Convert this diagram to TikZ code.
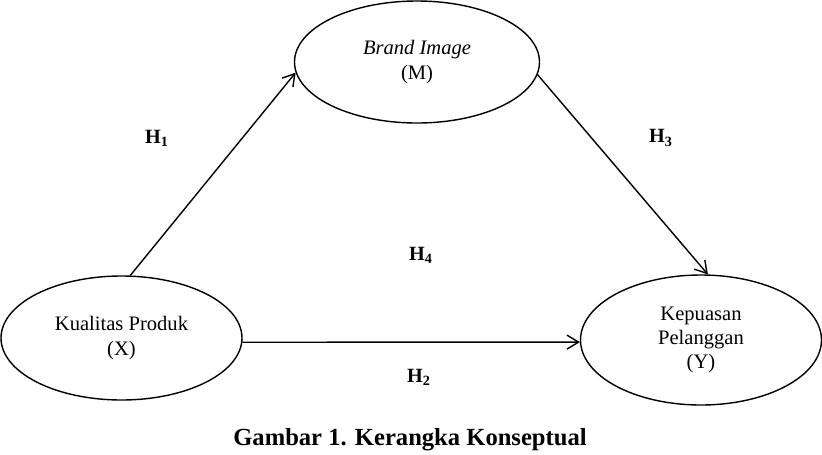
\documentclass[tikz,border=0pt]{standalone}
\usepackage{fontspec}
\setmainfont{Liberation Serif}
\usepackage{tikz}
\usetikzlibrary{arrows, arrows.meta, positioning, shapes.geometric}

\begin{document}
\begin{tikzpicture}[->,
				>={Straight Barb[length=2.3mm, width=2.8mm]},
				thick,
				font=\fontsize{11.7}{13.8}\selectfont,
				var/.style={ellipse, draw, align=center, inner sep=0pt},
				hyp/.style={font=\fontsize{11.5}{13.8}\selectfont\bfseries}]
				\useasboundingbox (0,0) rectangle (16.44,-9.08);
				\node at (8.34,-1.24) (m) [var, minimum width=4.9cm, minimum height=2.44cm] {\textit{Brand Image}\\(M)};
				\node at (2.43,-6.76) (x) [var, minimum width=4.82cm, minimum height=2.48cm] {Kualitas Produk\\(X)};
				\node at (14.02,-6.8) (y) [var, minimum width=4.82cm, minimum height=2.6cm] {Kepuasan\\Pelanggan\\(Y)};
				\node at (3.14,-2.76) (h1) [hyp] {H\textsubscript{1}};
				\node at (13.22,-2.76) (h3) [hyp] {H\textsubscript{3}};
				\node at (8.42,-5.1) (h4) [hyp] {H\textsubscript{4}};
				\node at (8.38,-7.54) (h2) [hyp] {H\textsubscript{2}};
				\node at (8.2,-8.8) (cap) [font=\fontsize{14}{16}\selectfont\bfseries] {Gambar 1. Kerangka Konseptual};
				\draw[->, black] (x.82) -- (m.185);
				\draw[->, black] (m.354) -- (y.84);
				\draw[->, black] (x.-2.4) -- (y.181.4);
			\end{tikzpicture}
\end{document}
